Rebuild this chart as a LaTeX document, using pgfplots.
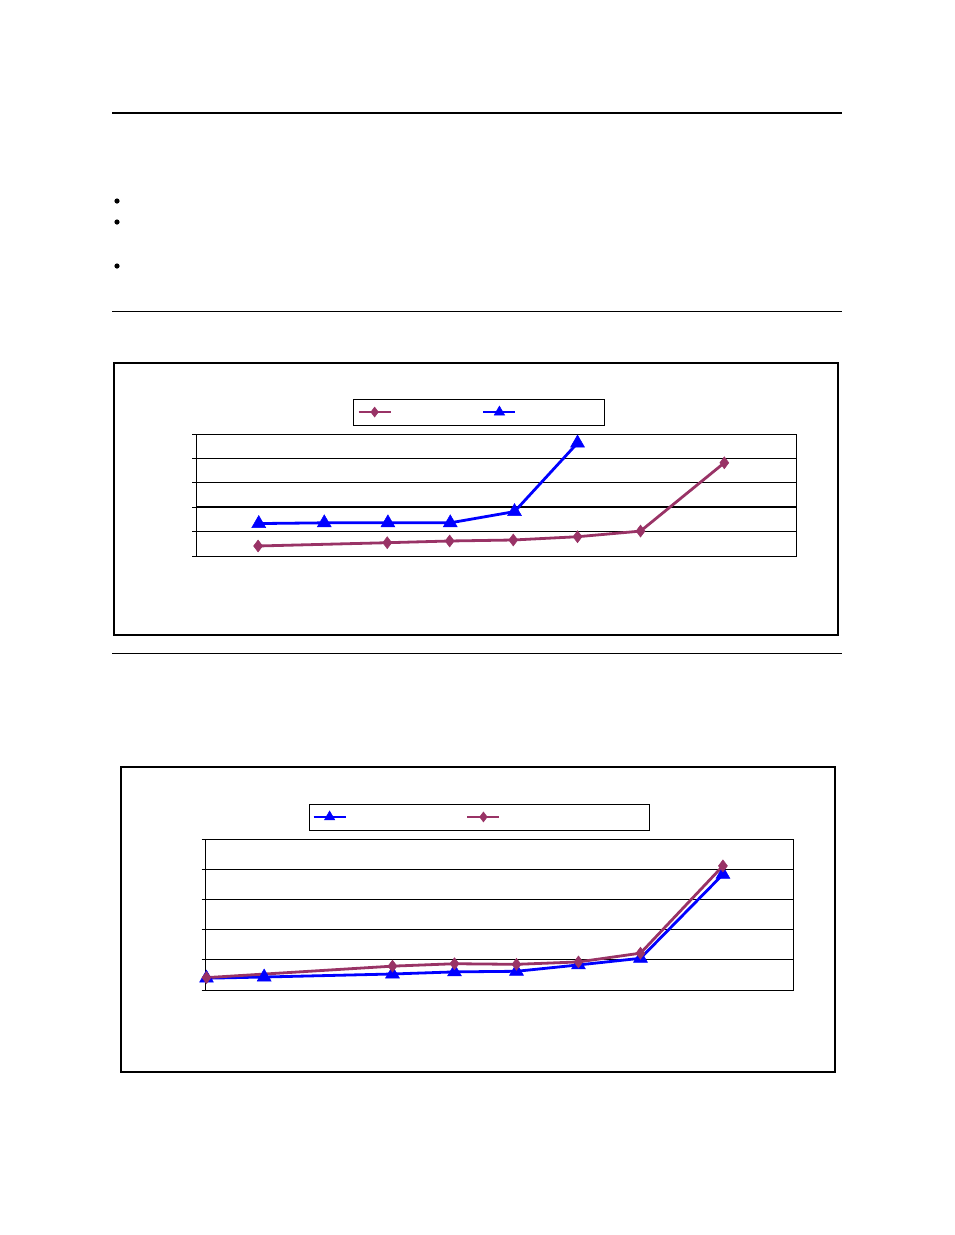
\documentclass[border=0pt]{standalone}
\usepackage{pgfplots}
\pgfplotsset{compat=1.18}
\definecolor{plum}{HTML}{993366}
\definecolor{pureblue}{HTML}{0000FF}

\pgfplotsset{
  chart/.style={
    scale only axis, clip=false,
    axis line style={line width=1pt},
    xtick=\empty, ytick={0,1,2,3,4,5}, yticklabels={{},{},{},{},{},{}},
    ytick pos=left,
    ymin=0, ymax=5,
    tick align=outside, major tick length=4pt,
    every tick/.style={black, line width=0.9pt},
    ymajorgrids, grid style={black, line width=0.9pt},
    legend columns=2,
    legend image code/.code={\draw[mark repeat=2, mark phase=2, #1, line width=2.8pt]
      plot coordinates {(0pt,0pt) (16pt,0pt) (32pt,0pt)};},
    legend style={draw=black, line width=0.9pt, inner xsep=4pt, inner ysep=0pt,
      nodes={inner sep=0pt, minimum height=26pt}},
  },
  purp/.style={plum, line width=2.8pt, mark=diamond*, mark size=6pt,
    mark options={fill=plum, draw=plum, line width=0.5pt}},
  blu/.style={pureblue, line width=2.8pt, mark=triangle*, mark size=8pt,
    mark options={fill=pureblue, draw=pureblue, line width=0.5pt}},
}

\begin{document}
\begin{tikzpicture}[x=1pt, y=-1pt]
\useasboundingbox (0,0) rectangle (954,1235);
\coordinate (c1) at (196,434);
\coordinate (c2) at (205.5,839);
% page rules and bullets
\draw[line width=2pt] (112,113) -- (842,113);
\draw[line width=1pt] (112,311) -- (842,311);
\draw[line width=1pt] (112,653.5) -- (842,653.5);
\foreach \yy in {201,222,266} \fill (117,\yy) circle (2.6pt);
% chart frames
\draw[line width=1.6pt] (114,363) rectangle (838,635);
\draw[line width=2pt] (121,767) rectangle (835,1072);

% chart 1
\begin{axis}[chart, at={(c1)}, anchor=north west,
  width=600pt, height=122pt, xmin=-0.976, xmax=8.548,
  legend style={at={(0.4717,1.18)}, anchor=center}]
  \addplot[black, line width=2.4pt, forget plot] coordinates {(-0.976,2) (8.548,2)};
  \addplot[purp, forget plot] coordinates {
    (0.01,0.41) (2.06,0.545) (3.05,0.615) (4.06,0.656) (5.08,0.79) (6.08,1.02) (7.41,3.82)
  };
  \addplot[blu, forget plot] coordinates {
    (0.02,1.33) (1.06,1.36) (2.07,1.36) (3.06,1.36) (4.08,1.82) (5.08,4.63)
  };
  \addlegendimage{purp, mark size=5pt}
  \addlegendentry{\hspace*{90pt}}
  \addlegendimage{blu, mark size=6pt}
  \addlegendentry{\hspace*{84pt}}
\end{axis}

% chart 2
\begin{axis}[chart, at={(c2)}, anchor=north west,
  width=588pt, height=151pt, xmin=-0.016, xmax=9.468,
  legend style={at={(0.466,1.146)}, anchor=center, inner xsep=3pt}]
  \addplot[blu, forget plot] coordinates {
    (0,0.39) (0.93,0.43) (3.0,0.53) (4.0,0.60) (5.0,0.62) (6.0,0.83) (7.0,1.05) (8.33,3.83)
  };
  \addplot[purp, forget plot] coordinates {
    (0,0.41) (3.0,0.79) (4.0,0.87) (5.0,0.85) (6.0,0.93) (7.0,1.22) (8.33,4.11)
  };
  \addlegendimage{blu, mark size=6pt}
  \addlegendentry{\hspace*{119pt}}
  \addlegendimage{purp, mark size=5pt}
  \addlegendentry{\hspace*{146pt}}
\end{axis}
\end{tikzpicture}
\end{document}
